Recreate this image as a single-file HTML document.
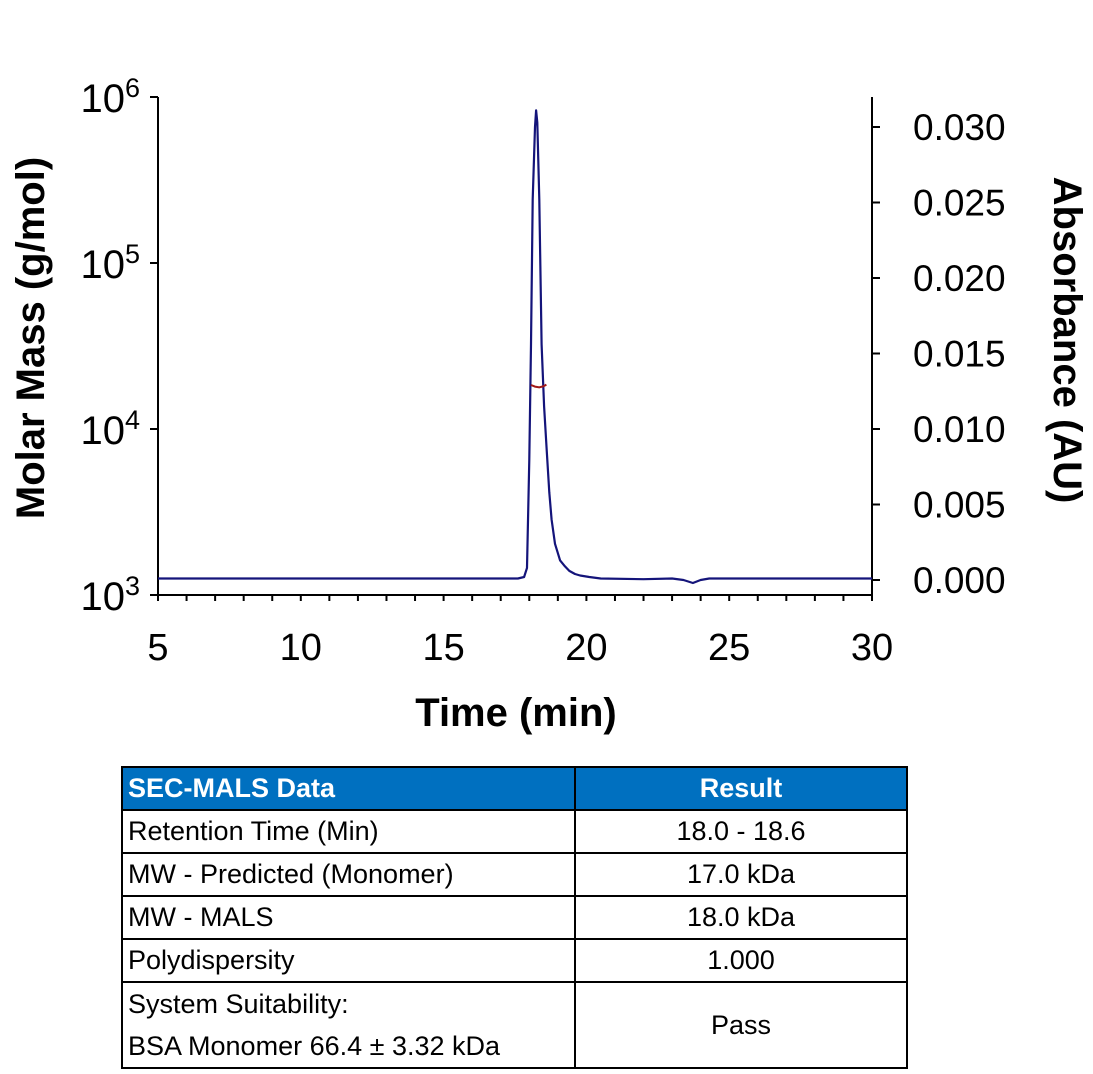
<!DOCTYPE html>
<html><head><meta charset="utf-8"><style>
body{margin:0;background:#fff;width:1093px;height:1074px;overflow:hidden;font-family:"Liberation Sans",sans-serif}
svg{position:absolute;left:0;top:0}
table{position:absolute;left:121px;top:766px;width:787px;border-collapse:collapse;font-family:"Liberation Sans Narrow","Liberation Sans",sans-serif;font-size:27px;color:#000}
td{border:2px solid #000;padding:0 5px;height:41px;line-height:41px;white-space:nowrap}
td.r{text-align:center}
tr.h td{background:#0070C0;color:#fff;font-weight:bold;height:41px}
</style></head><body>
<svg width="1093" height="760" id="chart">
<g id="axes"></g><g id="series"></g>
</svg>
<table>
<tr class="h"><td style="width:441px">SEC-MALS Data</td><td class="r">Result</td></tr>
<tr><td>Retention Time (Min)</td><td class="r">18.0 - 18.6</td></tr>
<tr><td>MW - Predicted (Monomer)</td><td class="r">17.0 kDa</td></tr>
<tr><td>MW - MALS</td><td class="r">18.0 kDa</td></tr>
<tr><td>Polydispersity</td><td class="r">1.000</td></tr>
<tr><td style="line-height:42px;height:83px">System Suitability:<br>BSA Monomer 66.4 ± 3.32 kDa</td><td class="r">Pass</td></tr>
</table>
<script>
const absTime=[5,17.6,17.82,17.92,18.0,18.06,18.12,18.2,18.24,18.28,18.35,18.43,18.52,18.61,18.7,18.78,18.9,19.08,19.25,19.4,19.6,19.78,20.1,20.5,22,23,23.4,23.73,24.0,24.3,30];
const absValues=[0.0001,0.0001,0.0002,0.0008,0.008,0.0156,0.0252,0.0300,0.0311,0.0303,0.0252,0.0156,0.0115,0.0086,0.0058,0.004,0.0024,0.0013,0.0009,0.0006,0.0004,0.0003,0.0002,0.0001,0.00005,0.0001,0.0,-0.0002,0.0,0.0001,0.0001];
const massTime=[18.06,18.2,18.35,18.5,18.6];
const massValues=[18400,18000,17800,18100,18500];
const xTicks=[5,10,15,20,25,30];
const yLeftTicks=[3,4,5,6];
const yRightTicks=[0,0.005,0.010,0.015,0.020,0.025,0.030];
const NS='http://www.w3.org/2000/svg';
const X=t=>158+(t-5)/25*714;
const YL=v=>595-(Math.log10(v)-3)*166;
const YR=a=>580-a/0.005*75.5;
const ax=document.getElementById('axes'),se=document.getElementById('series');
function mk(tag,at,p){const e=document.createElementNS(NS,tag);for(const k in at)e.setAttribute(k,at[k]);p.appendChild(e);return e;}
let e;
e=mk('path',{d:'M158,97V595H872M872,97V600',stroke:'#000','stroke-width':2,fill:'none'},ax);


for(let t=5;t<=30;t++){e=mk('line',{x1:X(t),x2:X(t),y1:595,y2:601,stroke:'#000','stroke-width':2},ax);

}
xTicks.forEach(t=>{e=mk('text',{x:X(t),y:660,'text-anchor':'middle','font-size':38},ax);e.textContent=t;

});
yLeftTicks.forEach(p=>{const y=YL(Math.pow(10,p));
e=mk('line',{x1:150,x2:158,y1:y,y2:y,stroke:'#000','stroke-width':2},ax);


e=mk('text',{x:140,y:y+15,'text-anchor':'end','font-size':40},ax);
e.innerHTML='10<tspan dy="-15" font-size="27">'+p+'</tspan>';

});
yRightTicks.forEach(a=>{const y=YR(a);
e=mk('line',{x1:872,x2:880,y1:y,y2:y,stroke:'#000','stroke-width':2},ax);


e=mk('text',{x:913,y:y+13,'font-size':37},ax);e.textContent=a.toFixed(3);

});
e=mk('text',{x:0,y:0,'text-anchor':'middle','font-size':40,'font-weight':'bold',transform:'translate(44,338) rotate(-90)'},ax);e.textContent='Molar Mass (g/mol)';


e=mk('text',{x:0,y:0,'text-anchor':'middle','font-size':40,'font-weight':'bold',transform:'translate(1054,340) rotate(90)'},ax);e.textContent='Absorbance (AU)';


e=mk('text',{x:516,y:726,'text-anchor':'middle','font-size':40,'font-weight':'bold'},ax);e.textContent='Time (min)';


e=mk('path',{d:absTime.map((t,i)=>(i?'L':'M')+X(t).toFixed(1)+','+YR(absValues[i]).toFixed(1)).join(''),stroke:'#14147a','stroke-width':2.2,fill:'none','stroke-linejoin':'round'},se);


e=mk('path',{d:massTime.map((t,i)=>(i?'L':'M')+X(t).toFixed(1)+','+YL(massValues[i]).toFixed(1)).join(''),stroke:'#a01818','stroke-width':2,fill:'none'},se);


</script>
</body></html>
